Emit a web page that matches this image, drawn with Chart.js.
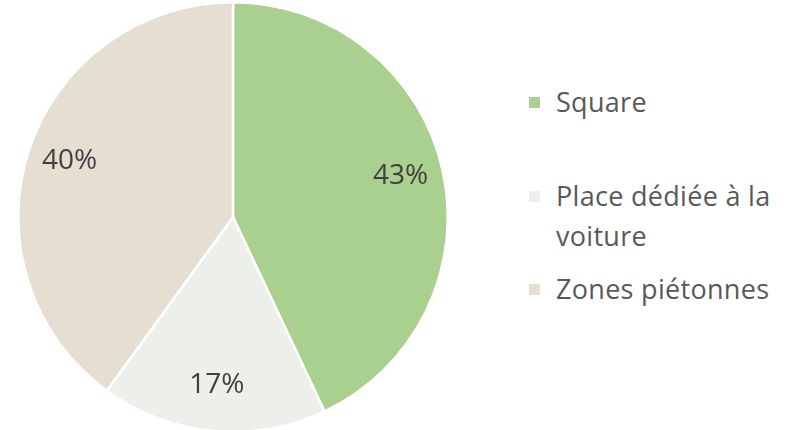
<!DOCTYPE html>
<html lang="fr">
<head>
<meta charset="UTF-8" />
<title>Répartition</title>
<script src="https://cdn.jsdelivr.net/npm/chart.js"></script>
<style>
  body { margin: 0; background: #fff; font-family: "Open Sans", Arial, sans-serif; overflow: hidden; }
  #wrap { position: relative; width: 789px; height: 430px; overflow: hidden; }
  #pieBox { position: absolute; left: 0; top: -3px; width: 466px; height: 436px; }
  #legend { position: absolute; left: 529px; top: 0; width: 260px; color: #595959; font-size: 27px; letter-spacing: 0.3px; }
  .item { position: absolute; left: 0; display: flex; align-items: flex-start; line-height: 40px; white-space: nowrap; }
  .box { width: 11px; height: 11px; margin: 15px 16px 0 0; flex: none; }
</style>
</head>
<body>
<div id="wrap">
  <div id="pieBox"><canvas id="pie"></canvas></div>
  <div id="legend"></div>
</div>

<script>
  const labels = ['Square', ['Place dédiée à la', 'voiture'], 'Zones piétonnes'];
  const values = [43, 17, 40];
  const colors = ['#a9d08e', '#edefeb', '#e7ded2'];
  const legendTops = [82, 176, 269];

  // percentage labels drawn near the outer edge of each slice
  const sliceLabels = {
    id: 'sliceLabels',
    afterDatasetsDraw(chart) {
      const ctx = chart.ctx;
      const meta = chart.getDatasetMeta(0);
      ctx.save();
      ctx.fillStyle = '#404040';
      ctx.font = '28px "Open Sans", Arial, sans-serif';
      ctx.textAlign = 'center';
      ctx.textBaseline = 'middle';
      meta.data.forEach((arc, i) => {
        const mid = (arc.startAngle + arc.endAngle) / 2;
        const r = arc.outerRadius * 0.8;
        const x = arc.x + Math.cos(mid) * r;
        const y = arc.y + Math.sin(mid) * r - 3;
        ctx.fillText(values[i] + '%', x, y);
      });
      ctx.restore();
    }
  };

  new Chart(document.getElementById('pie'), {
    type: 'pie',
    data: {
      labels: labels,
      datasets: [{
        data: values,
        backgroundColor: colors,
        borderColor: '#ffffff',
        borderWidth: 2.5
      }]
    },
    options: {
      responsive: true,
      maintainAspectRatio: false,
      animation: false,
      layout: { padding: { top: 4, bottom: 0, left: 0, right: 0 } },
      plugins: {
        legend: { display: false },
        tooltip: { enabled: false }
      }
    },
    plugins: [sliceLabels]
  });

  // legend built from the same arrays
  const legend = document.getElementById('legend');
  labels.forEach((name, i) => {
    const item = document.createElement('div');
    item.className = 'item';
    item.style.top = legendTops[i] + 'px';
    const box = document.createElement('span');
    box.className = 'box';
    box.style.background = colors[i];
    const txt = document.createElement('span');
    txt.innerHTML = [].concat(name).join('<br>');
    item.appendChild(box);
    item.appendChild(txt);
    legend.appendChild(item);
  });
</script>
</body>
</html>
